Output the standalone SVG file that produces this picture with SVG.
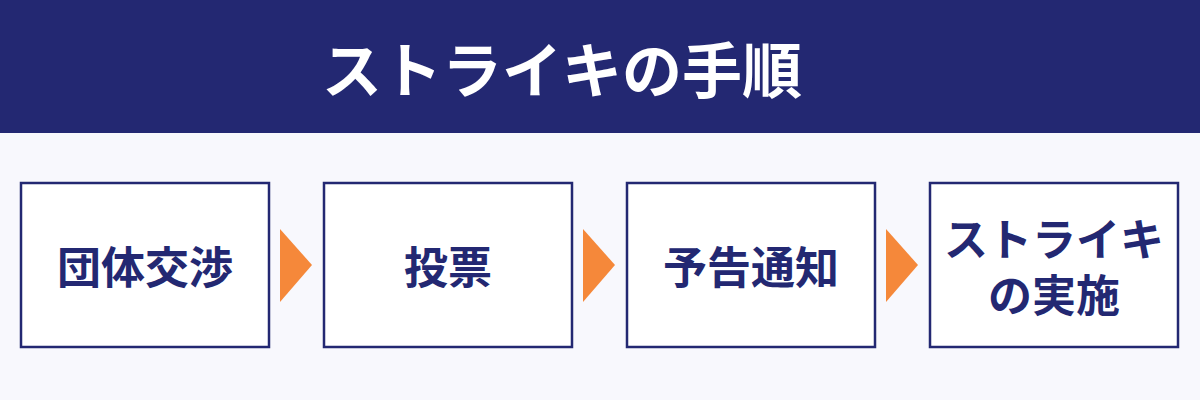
<svg xmlns="http://www.w3.org/2000/svg" width="1200" height="400" viewBox="0 0 1200 400">
<style>
.box{fill:#ffffff;stroke:#232872;stroke-width:2.5}
.lbl{font-family:"Noto Sans CJK JP","Noto Sans",sans-serif;font-weight:700;font-size:44px;fill:#232872;text-anchor:middle;dominant-baseline:central}
.title{font-family:"Noto Sans CJK JP","Noto Sans",sans-serif;font-weight:700;font-size:60px;fill:#ffffff;text-anchor:middle;dominant-baseline:central}
.arr{fill:#F5883A}
</style>
<rect x="0" y="0" width="1200" height="400" fill="#F8F8FD"/>
<rect x="0" y="0" width="1200" height="133" fill="#232872"/>
<text class="title" x="562" y="66">ストライキの手順</text>
<g id="connectors">
<polygon class="arr" points="280,229 312,265 280,302"/>
<polygon class="arr" points="583,229 615,265 583,302"/>
<polygon class="arr" points="886,229 918,265 886,302"/>
</g>
<g id="node1">
<rect class="box" x="21" y="183" width="248" height="164"/>
<text class="lbl" x="145" y="265">団体交渉</text>
</g>
<g id="node2">
<rect class="box" x="324" y="183" width="248" height="164"/>
<text class="lbl" x="448" y="265">投票</text>
</g>
<g id="node3">
<rect class="box" x="627" y="183" width="248" height="164"/>
<text class="lbl" x="751" y="265">予告通知</text>
</g>
<g id="node4">
<rect class="box" x="930" y="183" width="248" height="164"/>
<text class="lbl" x="1054" y="237">ストライキ</text>
<text class="lbl" x="1054" y="293">の実施</text>
</g>
</svg>
